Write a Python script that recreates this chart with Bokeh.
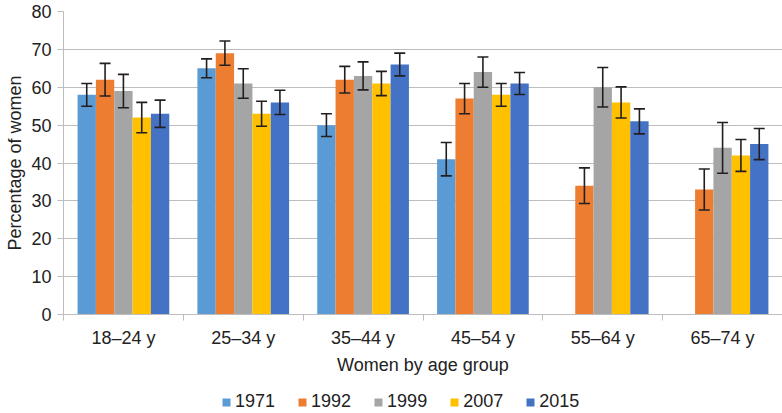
from bokeh.plotting import figure
from bokeh.layouts import column
from bokeh.models import (ColumnDataSource, Range1d, FixedTicker, SingleIntervalTicker,
                          Whisker, TeeHead, Legend, LegendItem)
from bokeh.transform import dodge
from bokeh.embed import file_html
from bokeh.resources import INLINE

nan = float("nan")

age_groups = ["18\u201324 y", "25\u201334 y", "35\u201344 y", "45\u201354 y", "55\u201364 y", "65\u201374 y"]
years = ["1971", "1992", "1999", "2007", "2015"]
colors = ["#5B9BD5", "#ED7D31", "#A5A5A5", "#FFC000", "#4472C4"]

v1971 = [58, 65, 50, 41, nan, nan]
v1992 = [62, 69, 62, 57, 34, 33]
v1999 = [59, 61, 63, 64, 60, 44]
v2007 = [52, 53, 61, 58, 56, 42]
v2015 = [53, 56, 66, 61, 51, 45]

e1971 = [3.0, 2.5, 3.0, 4.4, nan, nan]
e1992 = [4.3, 3.2, 3.5, 4.0, 4.7, 5.4]
e1999 = [4.4, 3.9, 3.7, 4.0, 5.2, 6.7]
e2007 = [4.0, 3.3, 3.2, 3.0, 4.1, 4.2]
e2015 = [3.6, 3.2, 3.0, 2.9, 3.3, 4.1]

y_ticks_interval = 10
values = [v1971, v1992, v1999, v2007, v2015]
errors = [e1971, e1992, e1999, e2007, e2015]

FONT = "Liberation Sans"
TXT = "#222222"
GRAY = "#BDBDBD"
ERR = "#231F20"

n = len(age_groups)
centers = [i + 0.5 for i in range(n)]
bounds = [float(i) for i in range(n + 1)]

p = figure(width=782, height=385, x_range=Range1d(0, n), y_range=Range1d(0, 80),
           output_backend="svg", toolbar_location=None,
           min_border_top=11, min_border_right=0, min_border_left=63, min_border_bottom=71)
p.outline_line_color = None
p.background_fill_color = "white"
p.border_fill_color = "white"

bw = 0.153
offsets = [(k - 2) * bw for k in range(len(years))]

for yr, col, vals, errs, off in zip(years, colors, values, errors, offsets):
    src = ColumnDataSource(dict(
        x=centers,
        top=vals,
        upper=[v + e for v, e in zip(vals, errs)],
        lower=[v - e for v, e in zip(vals, errs)],
    ))
    p.vbar(x=dodge("x", off), top="top", width=bw, bottom=0, source=src,
           fill_color=col, line_color=None)
    w = Whisker(base=dodge("x", off), upper="upper", lower="lower", source=src,
                line_color=ERR, line_width=1.6, level="overlay",
                upper_head=TeeHead(size=11, line_color=ERR, line_width=1.6),
                lower_head=TeeHead(size=11, line_color=ERR, line_width=1.6))
    p.add_layout(w)

# grid
p.xgrid.visible = False
p.ygrid.grid_line_color = GRAY
p.ygrid.grid_line_width = 1

# x axis
xa = p.xaxis[0]
xa.ticker = FixedTicker(ticks=centers, minor_ticks=bounds)
xa.major_label_overrides = {c: lab for c, lab in zip(centers, age_groups)}
xa.major_tick_out = 0
xa.major_tick_in = 0
xa.minor_tick_out = 6
xa.minor_tick_in = 0
xa.minor_tick_line_color = GRAY
xa.axis_line_color = GRAY
xa.major_label_standoff = 7
xa.major_label_text_font = FONT
xa.major_label_text_font_size = "18px"
xa.major_label_text_color = TXT
xa.axis_label = "Women by age group"
xa.axis_label_text_font = FONT
xa.axis_label_text_font_size = "18px"
xa.axis_label_text_font_style = "normal"
xa.axis_label_text_color = TXT
xa.axis_label_standoff = 4

# y axis
ya = p.yaxis[0]
ya.ticker = SingleIntervalTicker(interval=y_ticks_interval, num_minor_ticks=0)
ya.major_tick_out = 6
ya.major_tick_in = 0
ya.minor_tick_out = 0
ya.minor_tick_in = 0
ya.major_tick_line_color = GRAY
ya.axis_line_color = GRAY
ya.major_label_standoff = 6
ya.major_label_text_font = FONT
ya.major_label_text_font_size = "18px"
ya.major_label_text_color = TXT
ya.axis_label = "Percentage of women"
ya.axis_label_text_font = FONT
ya.axis_label_text_font_size = "18px"
ya.axis_label_text_font_style = "normal"
ya.axis_label_text_color = TXT
ya.axis_label_standoff = 3

# legend strip (proxy renderers carry only the series colour, no visible marks)
lg = figure(width=782, height=28, x_range=Range1d(0, 1), y_range=Range1d(0, 1),
            output_backend="svg", toolbar_location=None, x_axis_type=None, y_axis_type=None,
            min_border=0)
lg.outline_line_color = None
lg.grid.visible = False
items = []
for yr, col in zip(years, colors):
    r = lg.vbar(x=[nan], top=[nan], width=0.1, fill_color=col, line_color=None)
    items.append(LegendItem(label=yr, renderers=[r]))

legend = Legend(items=items, orientation="horizontal", location=(158, 1),
                border_line_color=None, background_fill_alpha=0,
                label_text_font=FONT, label_text_font_size="18px", label_text_color=TXT,
                glyph_width=10, glyph_height=10, spacing=22, label_standoff=4,
                padding=2, margin=0)
lg.add_layout(legend, "center")

open("out.html", "w").write(file_html(column(p, lg, spacing=0), INLINE))
